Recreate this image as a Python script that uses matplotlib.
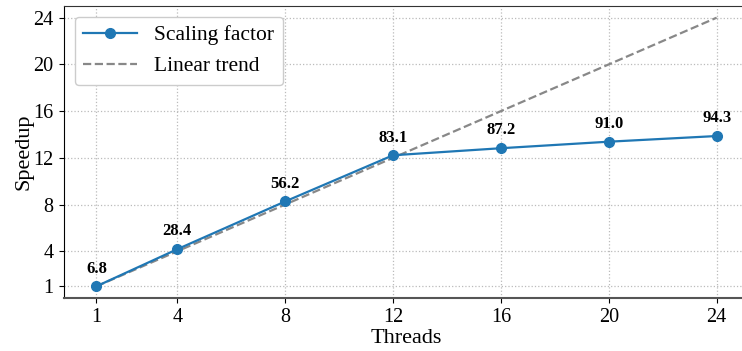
import matplotlib.pyplot as plt

plt.rcParams['font.family'] = ['Liberation Serif', 'DejaVu Serif']

threads = [1, 4, 8, 12, 16, 20, 24]
throughput = [6.8, 28.4, 56.2, 83.1, 87.2, 91.0, 94.3]
speedup = [t / throughput[0] for t in throughput]
linear = [1, 24]

fig = plt.figure(figsize=(7.42, 3.51), dpi=100)
ax = fig.add_axes([64/742, 53/351, 685/742, 292/351])

ax.plot(threads, speedup, color='#1f77b4', marker='o', markersize=7,
        linewidth=1.6, label='Scaling factor', zorder=3)
ax.plot(linear, linear, color='#888888', linestyle='--', linewidth=1.6,
        label='Linear trend', zorder=2)

for x, y, t in zip(threads, speedup, throughput):
    ax.annotate(f'{t:.1f}', (x, y), xytext=(0, 7), textcoords='offset points',
                ha='center', va='bottom', fontsize=12, fontweight='bold')

ax.set_xlim(-0.2, 25.2)
ax.set_ylim(0, 25)
ax.set_xticks(threads)
ax.set_yticks([1, 4, 8, 12, 16, 20, 24])
ax.tick_params(labelsize=14.5, pad=4)
ax.grid(True, linestyle=':', color='#bbbbbb', linewidth=0.9)
ax.set_axisbelow(True)
ax.spines['right'].set_visible(False)
ax.spines['bottom'].set_color('#555555')
ax.spines['bottom'].set_linewidth(1.5)
ax.spines['top'].set_color('#333333')

ax.set_xlabel('Threads', fontsize=16, labelpad=1)
ax.set_ylabel('Speedup', fontsize=16, labelpad=0)
ax.legend(loc='upper left', fontsize=15.5, framealpha=1, edgecolor='#cccccc',
          handlelength=2.5, borderaxespad=0.5)

fig.savefig('out.png', dpi=100)
plt.close(fig)
